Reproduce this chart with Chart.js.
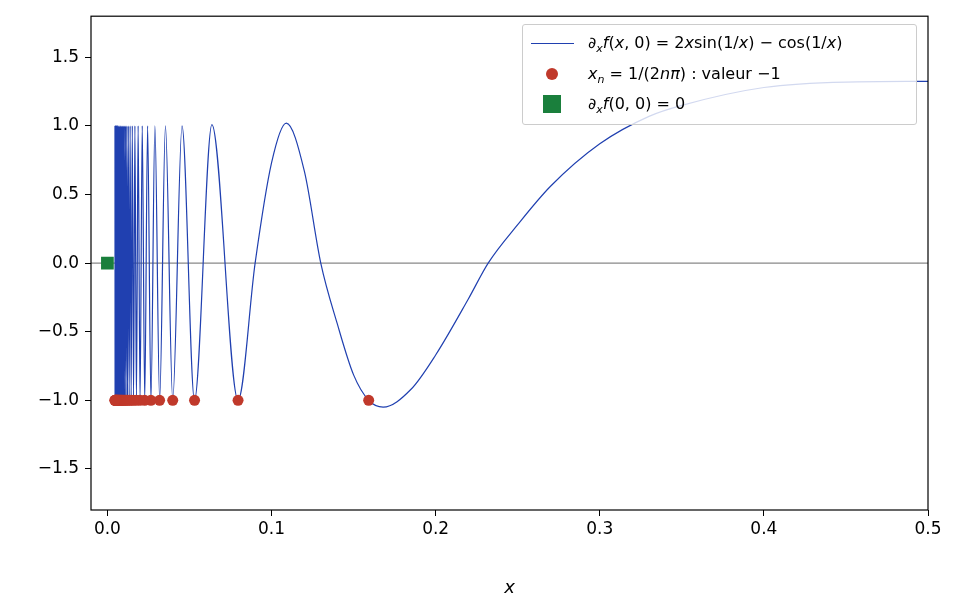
<!DOCTYPE html>
<html>
<head>
<meta charset="utf-8">
<script src="https://cdn.jsdelivr.net/npm/chart.js@4/dist/chart.umd.min.js"></script>
<style>
  body { margin: 0; background: #fff; }
  #wrap { position: relative; width: 962px; height: 599px; }
  #legend {
    position: absolute; left: 522px; top: 24px; width: 395px; height: 101px;
    border: 1px solid #ccc; border-radius: 3px; background: rgba(255,255,255,0.8);
    font-family: "DejaVu Sans", sans-serif; font-size: 16px; box-sizing: border-box;
  }
  .row { position: absolute; left: 0; width: 100%; height: 24px; line-height: 24px; }
  .txt { position: absolute; left: 65px; white-space: nowrap; }
  i { font-style: italic; }
  sub { font-size: 11px; font-style: italic; }
</style>
</head>
<body>
<div id="wrap">
  <canvas id="c" width="962" height="599"></canvas>
  <div id="legend">
    <div class="row" style="top:6px">
      <div style="position:absolute;left:8px;top:12px;width:43px;border-top:1.3px solid #2040b0"></div>
      <span class="txt">∂<sub>x</sub><i>f</i>(<i>x</i>, 0) = 2<i>x</i>sin(1/<i>x</i>) − cos(1/<i>x</i>)</span>
    </div>
    <div class="row" style="top:37px">
      <div style="position:absolute;left:23px;top:6px;width:12px;height:12px;border-radius:50%;background:#c0392b"></div>
      <span class="txt"><i>x</i><sub>n</sub> = 1/(2<i>nπ</i>) : valeur −1</span>
    </div>
    <div class="row" style="top:67px">
      <div style="position:absolute;left:20px;top:3px;width:18px;height:18px;background:#1a7f3c"></div>
      <span class="txt">∂<sub>x</sub><i>f</i>(0, 0) = 0</span>
    </div>
  </div>
</div>
<script>
// curve values (extrema and a few points between them)
var curveX = [0.00455,0.00461,0.00468,0.00475,0.00482,0.00490,0.00497,0.00505,0.00513,0.00522,
  0.00531,0.00540,0.00549,0.00558,0.00568,0.00579,0.00589,0.00601,0.00612,0.00624,
  0.00637,0.00650,0.00663,0.00677,0.00692,0.00707,0.00723,0.00740,0.00758,0.00776,
  0.00796,0.00816,0.00838,0.00860,0.00884,0.00909,0.00936,0.00965,0.00995,0.01027,
  0.01061,0.01098,0.01137,0.01179,0.01224,0.01273,0.01326,0.01384,0.01447,0.01516,
  0.01592,0.01675,0.01768,0.01872,0.01989,0.02122,0.02274,0.02449,0.02653,0.02894,
  0.03183,0.03537,0.03979,0.04547,0.05305,0.06366,0.0796,0.09,0.1,0.109,0.12,0.13,0.14,0.15,0.1592,
  0.168,0.185,0.2,0.22,0.232,0.25,0.27,0.3,0.33,0.35,0.4,0.45,0.5];
var curveY = [1,1,-1,1,-1,1,-1,1,-1,1,
  -1,1,-1,1,-1,1,-1,1,-1,1,
  -1,1,-1,1,-1,1,-1,1,-1,1,
  -1,1,-1,1,-1,1,-1,1,-1,1,
  -1,1,-1,1,-1,1,-1,1,-1,1,
  -1,1,-1,1,-1,1,-1,1,-1,1,
  -1,1,-1,1,-1,1.01,-1,0.0,0.73,1.02,0.67,0.0,-0.44,-0.815,-1,
  -1.05,-0.92,-0.67,-0.26,0.0,0.28,0.56,0.87,1.07,1.15,1.28,1.32,1.325];
var dotsX = [0.1592,0.0796,0.0531,0.0398,0.0318,0.0265,0.0227,0.0199,0.0177,0.0159,
  0.0145,0.0133,0.0122,0.0114,0.0106,0.0099,0.0094,0.0088,0.0084,0.0080,
  0.0076,0.0072,0.0069,0.0066,0.0064,0.0061,0.0059,0.0057,0.0055,0.0053,
  0.0051,0.0050,0.0048,0.0047,0.0045];
var dotValue = -1;

var curve = curveX.map(function (x, i) { return {x: x, y: curveY[i]}; });
var dots = dotsX.map(function (x) { return {x: x, y: dotValue}; });

var frame = {
  id: 'frame',
  beforeDatasetsDraw: function (chart) {
    var a = chart.chartArea, ctx = chart.ctx, y0 = chart.scales.y.getPixelForValue(0);
    ctx.save();
    ctx.strokeStyle = '#888'; ctx.lineWidth = 1.2;
    ctx.beginPath(); ctx.moveTo(a.left, y0); ctx.lineTo(a.right, y0); ctx.stroke();
    ctx.restore();
  },
  afterDraw: function (chart) {
    var a = chart.chartArea, ctx = chart.ctx;
    ctx.save();
    ctx.strokeStyle = '#000'; ctx.lineWidth = 1.2;
    ctx.strokeRect(a.left, a.top, a.right - a.left, a.bottom - a.top);
    ctx.restore();
  }
};

var tickFont = {family: 'DejaVu Sans', size: 17};
new Chart(document.getElementById('c'), {
  type: 'scatter',
  data: {
    datasets: [
      {data: [{x: 0, y: 0}], pointStyle: 'rect', pointRadius: 9, backgroundColor: '#1a7f3c', borderWidth: 0},
      {data: dots, pointRadius: 5.5, backgroundColor: '#c0392b', borderWidth: 0},
      {data: curve, showLine: true, pointRadius: 0, borderColor: '#2040b0', borderWidth: 1.2,
       cubicInterpolationMode: 'monotone'}
    ]
  },
  plugins: [frame],
  options: {
    responsive: false, animation: false,
    layout: {padding: {left: 0, top: 14, right: 34, bottom: 0}},
    plugins: {legend: {display: false}, tooltip: {enabled: false}},
    scales: {
      x: {
        min: -0.01, max: 0.5,
        afterBuildTicks: function (s) { s.ticks = [0, 0.1, 0.2, 0.3, 0.4, 0.5].map(function (v) { return {value: v}; }); },
        ticks: {color: '#000', font: tickFont, padding: 3, maxRotation: 0,
                callback: function (v) { return v === 0 ? '0.0' : String(v); }},
        grid: {drawOnChartArea: false, tickLength: 6, color: '#000'},
        border: {display: false},
        title: {display: true, text: 'x', color: '#000', padding: {top: 12, bottom: 0},
                font: {family: 'DejaVu Sans', size: 18, style: 'italic'}},
        afterFit: function (s) { s.height = 89; }
      },
      y: {
        min: -1.8, max: 1.8,
        afterBuildTicks: function (s) { s.ticks = [-1.5, -1, -0.5, 0, 0.5, 1, 1.5].map(function (v) { return {value: v}; }); },
        ticks: {color: '#000', font: tickFont, padding: 6,
                callback: function (v) { return v.toFixed(1).replace('-', '−'); }},
        grid: {drawOnChartArea: false, tickLength: 6, color: '#000'},
        border: {display: false},
        afterFit: function (s) { s.width = 91; }
      }
    }
  }
});
</script>
</body>
</html>
